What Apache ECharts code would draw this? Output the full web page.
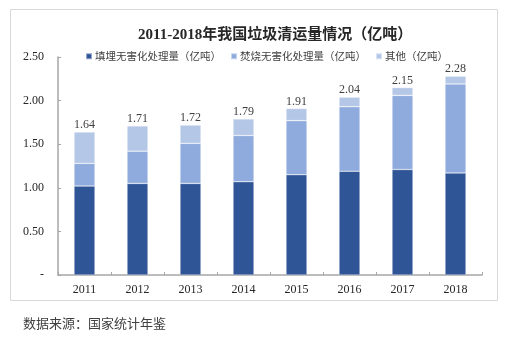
<!DOCTYPE html>
<html>
<head>
<meta charset="utf-8">
<script src="https://cdn.jsdelivr.net/npm/echarts@6/dist/echarts.min.js"></script>
<style>
  html, body { margin: 0; padding: 0; background: #fff; }
  #chart { width: 507px; height: 338px; }
</style>
</head>
<body>
<div id="chart"></div>
<script>
// Municipal solid waste collected in China, 2011-2018 (100 million tonnes)
const years = ['2011', '2012', '2013', '2014', '2015', '2016', '2017', '2018'];
const totals = [1.64, 1.71, 1.72, 1.79, 1.91, 2.04, 2.15, 2.28];
const landfill = [1.02, 1.05, 1.05, 1.07, 1.15, 1.19, 1.21, 1.17];
const incineration = [0.26, 0.37, 0.46, 0.53, 0.62, 0.74, 0.85, 1.02];
const other = [0.36, 0.29, 0.21, 0.19, 0.14, 0.11, 0.09, 0.09];
const yTicks = ['-', '0.50', '1.00', '1.50', '2.00', '2.50'];

const seriesNames = ['填埋无害化处理量（亿吨）', '焚烧无害化处理量（亿吨）', '其他（亿吨）'];
const colors = ['#2F5597', '#8FAADC', '#B4C7E7'];
const serif = '"Liberation Serif", "Times New Roman", "Noto Sans CJK SC", serif';
const sans = '"Noto Sans CJK SC", "Noto Sans", sans-serif';
const axisColor = '#A6A6A6';

const chart = echarts.init(document.getElementById('chart'), null, { renderer: 'canvas' });

function barSeries(i, data, withLabel) {
  const s = {
    name: seriesNames[i],
    type: 'bar',
    stack: 'total',
    barWidth: 21,
    data: data,
    itemStyle: { color: colors[i], borderColor: 'rgba(255,255,255,0.5)', borderWidth: 0.6 },
    emphasis: { disabled: true }
  };
  if (withLabel) {
    s.label = {
      show: true,
      position: 'top',
      distance: 1,
      color: '#404040',
      fontFamily: serif,
      fontSize: 12,
      formatter: p => totals[p.dataIndex].toFixed(2)
    };
  }
  return s;
}

chart.setOption({
  animation: false,
  backgroundColor: '#fff',
  title: {
    text: '2011-2018年我国垃圾清运量情况（亿吨）',
    left: 133,
    top: 23,
    textStyle: { fontFamily: serif, fontWeight: 'bold', fontSize: 15, color: '#262626' }
  },
  graphic: [
    {
      type: 'rect',
      shape: { x: 10.5, y: 9.5, width: 487, height: 291 },
      style: { fill: 'none', stroke: '#D9D9D9', lineWidth: 1 },
      silent: true
    },
    {
      type: 'text',
      left: 23,
      top: 317,
      style: { text: '数据来源：国家统计年鉴', fontFamily: sans, fontSize: 13, fill: '#404040' },
      silent: true
    }
  ],
  legend: {
    top: 46,
    left: 80,
    itemWidth: 6,
    itemHeight: 6,
    itemGap: 9,
    icon: 'rect',
    textStyle: { fontFamily: sans, fontSize: 10.5, color: '#404040', padding: [0, 0, 0, -2] },
    data: seriesNames
  },
  grid: { left: 58, right: 25, top: 57, bottom: 63 },
  xAxis: {
    type: 'category',
    data: years,
    axisLine: { lineStyle: { color: axisColor, width: 1.5 } },
    axisTick: { show: true, inside: true, length: 3, lineStyle: { color: axisColor } },
    axisLabel: { fontFamily: serif, fontSize: 12, color: '#262626', margin: 9 }
  },
  yAxis: {
    type: 'value',
    min: 0,
    max: 2.5,
    interval: 0.5,
    splitLine: { show: false },
    axisLine: { show: true, lineStyle: { color: axisColor, width: 1.5 } },
    axisTick: { show: true, inside: true, length: 3, lineStyle: { color: axisColor } },
    axisLabel: {
      fontFamily: serif,
      fontSize: 12,
      color: '#262626',
      margin: 14,
      formatter: v => yTicks[Math.round(v / 0.5)]
    }
  },
  series: [
    barSeries(0, landfill, false),
    barSeries(1, incineration, false),
    barSeries(2, other, true)
  ]
});
</script>
</body>
</html>
